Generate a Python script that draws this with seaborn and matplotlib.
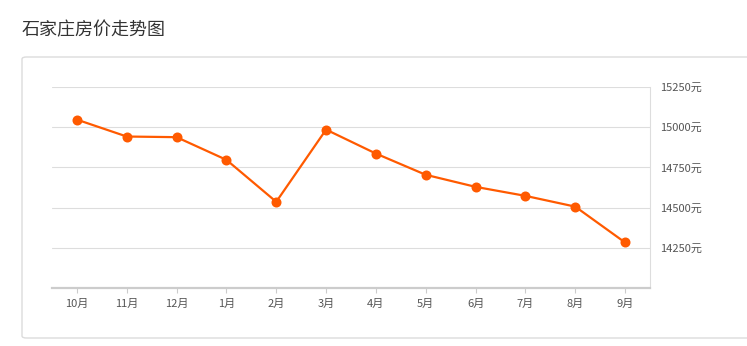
import matplotlib
matplotlib.use("Agg")
import matplotlib.pyplot as plt
from matplotlib.patches import FancyBboxPatch
import seaborn as sns
import pandas as pd

months = ["10月", "11月", "12月", "1月", "2月", "3月", "4月", "5月", "6月", "7月", "8月", "9月"]
prices = [15047, 14942, 14938, 14797, 14536, 14985, 14836, 14704, 14629, 14573, 14506, 14283]
y_ticks = [14250, 14500, 14750, 15000, 15250]
y_tick_labels = [f"{v}元" for v in y_ticks]
title = "石家庄房价走势图"

sns.set_theme(style="white")
plt.rcParams["font.family"] = ["Noto Sans CJK SC", "DejaVu Sans"]

W, H = 747, 346
fig = plt.figure(figsize=(W / 100, H / 100), dpi=100)
fig.patch.set_facecolor("white")

# outer panel box
box = FancyBboxPatch((22 / W, 1 - 338 / H), (760 - 22) / W, (338 - 57) / H,
                     boxstyle="round,pad=0,rounding_size=0.006",
                     transform=fig.transFigure, facecolor="none",
                     edgecolor="#dcdcdc", linewidth=1.0, zorder=-1)
fig.patches.append(box)

fig.text(22 / W, 1 - 30 / H, title, fontsize=13, color="#333333", va="center", ha="left")

ax = fig.add_axes([52 / W, 1 - 288 / H, (650 - 52) / W, (288 - 87) / H], zorder=2)
ax.set_facecolor("none")

df = pd.DataFrame({"month": months, "price": prices})
sns.pointplot(data=df, x="month", y="price", order=months, color="#ff5a00",
              markersize=6, linewidth=1.6, ax=ax)

ax.set_xlim(-0.5, len(months) - 0.5)
ax.set_ylim(14000, 15250)
ax.set_yticks(y_ticks)
ax.set_yticklabels(y_tick_labels)
ax.yaxis.tick_right()
ax.tick_params(axis="y", length=0, pad=7.5, labelsize=8, labelcolor="#555555")
ax.tick_params(axis="x", bottom=True, length=3.5, width=0.8, color="#cccccc", pad=4,
               labelsize=8, labelcolor="#555555", direction="out")
ax.set_xlabel("")
ax.set_ylabel("")

ax.grid(axis="y", color="#dddddd", linewidth=0.8)
ax.grid(axis="x", visible=False)
ax.set_axisbelow(True)

for s in ["top", "left"]:
    ax.spines[s].set_visible(False)
ax.spines["bottom"].set_color("#cccccc")
ax.spines["bottom"].set_linewidth(1.6)
ax.spines["right"].set_color("#dddddd")
ax.spines["right"].set_linewidth(0.8)

fig.savefig("out.png", dpi=100)
